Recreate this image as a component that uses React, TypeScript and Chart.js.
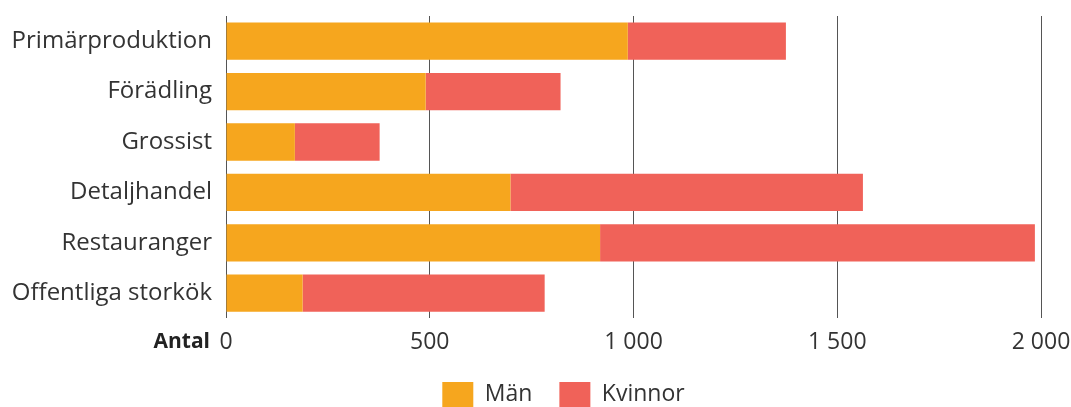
import React, { useEffect, useRef } from "react";
import { Chart, registerables } from "chart.js";

Chart.register(...registerables);

const categories = [
  "Primärproduktion",
  "Förädling",
  "Grossist",
  "Detaljhandel",
  "Restauranger",
  "Offentliga storkök",
];
const man = [986, 490, 169, 698, 918, 188];
const kvinnor = [388, 331, 208, 865, 1067, 594];
const xTicks = [0, 500, 1000, 1500, 2000];
const xTickLabels = ["0", "500", "1 000", "1 500", "2 000"];

const FONT = "'Open Sans', 'Noto Sans', sans-serif";

const antalPlugin = {
  id: "antal",
  afterDraw(chart: any) {
    const { ctx, scales } = chart;
    const x = scales.x;
    ctx.save();
    ctx.font = `bold 21px ${FONT}`;
    ctx.fillStyle = "#222";
    ctx.textAlign = "right";
    ctx.textBaseline = "middle";
    ctx.fillText("Antal", x.left - 16, x.top + 24);
    ctx.restore();
  },
};

const LEGEND_DX = 43;
const LEGEND_DY = -11;

const legendFitPlugin = {
  id: "legendFit",
  afterInit(chart: any) {
    const legend = chart.legend;
    if (!legend) return;
    const origFit = legend.fit;
    legend.fit = function () {
      origFit.call(this);
      this.height = 41;
    };
    const origDraw = legend.draw;
    legend.draw = function () {
      const t = this.top, l = this.left, r = this.right;
      this.top = t + LEGEND_DY;
      this.left = l + LEGEND_DX;
      this.right = r + LEGEND_DX;
      origDraw.call(this);
      this.top = t;
      this.left = l;
      this.right = r;
    };
  },
};

export default function App() {
  const ref = useRef<HTMLCanvasElement | null>(null);
  useEffect(() => {
    if (!ref.current) return;
    const chart = new Chart(ref.current, {
      type: "bar",
      data: {
        labels: categories,
        datasets: [
          { label: "Män", data: man, backgroundColor: "#F6A61E", borderWidth: 0 },
          { label: "Kvinnor", data: kvinnor, backgroundColor: "#F06259", borderWidth: 0 },
        ],
      },
      options: {
        indexAxis: "y",
        responsive: true,
        maintainAspectRatio: false,
        animation: false,
        datasets: { bar: { barPercentage: 0.74, categoryPercentage: 1 } },
        layout: { padding: { top: 16, right: 30, left: 0, bottom: 0 } },
        scales: {
          x: {
            stacked: true,
            min: 0,
            max: 2000,
            afterBuildTicks: (s: any) => {
              s.ticks = xTicks.map((v) => ({ value: v }));
            },
            afterFit: (s: any) => {
              s.paddingLeft = 0;
              s.paddingRight = 0;
            },
            ticks: {
              callback: (_v: any, i: number) => xTickLabels[i],
              font: { family: FONT, size: 23 },
              color: "#333",
              padding: 10,
              maxRotation: 0,
            },
            grid: { color: "#555", lineWidth: 1, tickLength: 0, drawTicks: false },
            border: { display: false },
          },
          y: {
            stacked: true,
            afterFit: (s: any) => {
              s.width = 226;
              s.paddingTop = 0;
              s.paddingBottom = 0;
            },
            ticks: {
              font: { family: FONT, size: 24 },
              color: "#333",
              padding: 6,
            },
            grid: { display: false },
            border: { display: false },
          },
        },
        plugins: {
          legend: {
            position: "bottom",
            labels: {
              boxWidth: 31,
              boxHeight: 25,
              padding: 27,
              color: "#333",
              font: { family: FONT, size: 23 },
            },
          },
          tooltip: { enabled: false },
        },
      },
      plugins: [antalPlugin, legendFitPlugin],
    });
    return () => chart.destroy();
  }, []);
  return (
    <div style={{ position: "fixed", left: 0, top: 0, width: 1071, height: 407 }}>
      <canvas ref={ref} />
    </div>
  );
}
